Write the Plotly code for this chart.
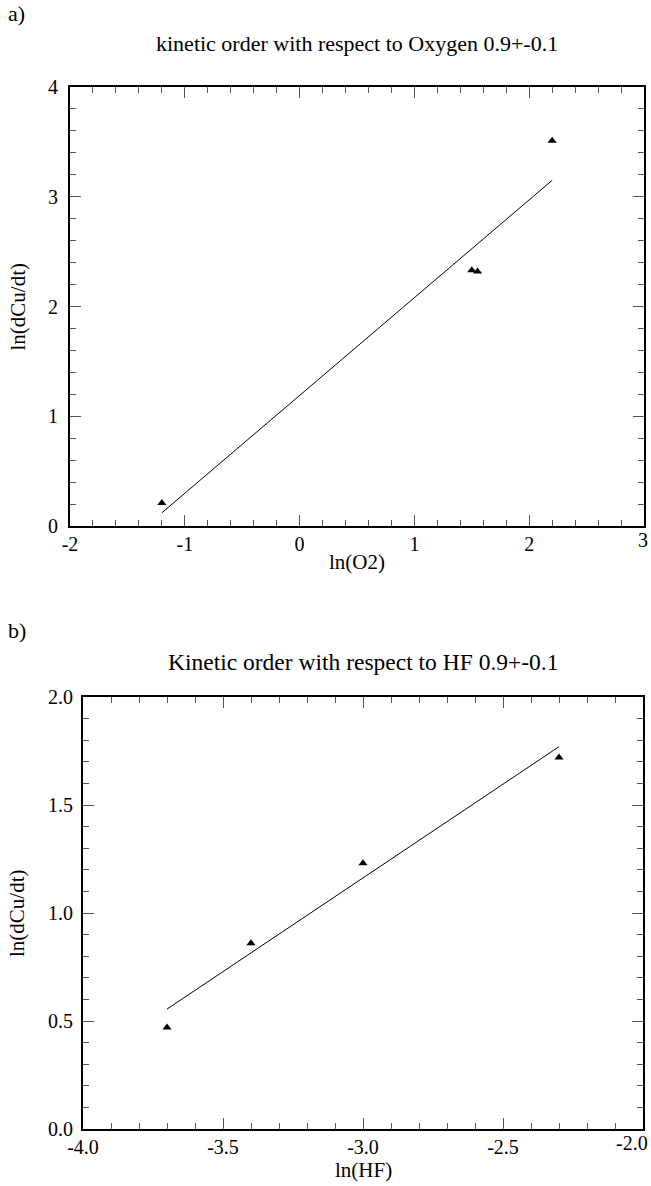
import plotly.graph_objects as go

# ---- data: panel a (Oxygen) ----
o2_x = [-1.2, 1.50, 1.55, 2.2]
o2_y = [0.21, 2.33, 2.32, 3.51]
o2_fit_x = [-1.2, 2.2]
o2_fit_y = [0.12, 3.15]

# ---- data: panel b (HF) ----
hf_x = [-3.7, -3.4, -3.0, -2.3]
hf_y = [0.47, 0.86, 1.23, 1.72]
hf_fit_x = [-3.7, -2.3]
hf_fit_y = [0.555, 1.77]

# ---- tick labels ----
a_xticks = [-2, -1, 0, 1, 2, 3]
a_xtext = ["-2", "-1", "0", "1", "2", "3"]
a_yticks = [0, 1, 2, 3, 4]
a_ytext = ["0", "1", "2", "3", "4"]
b_xticks = [-4.0, -3.5, -3.0, -2.5, -2.0]
b_xtext = ["-4.0", "-3.5", "-3.0", "-2.5", "-2.0"]
b_yticks = [0.0, 0.5, 1.0, 1.5, 2.0]
b_ytext = ["0.0", "0.5", "1.0", "1.5", "2.0"]

W, H = 651, 1186
FONT = "Liberation Serif"

fig = go.Figure()

fig.add_trace(go.Scatter(x=o2_fit_x, y=o2_fit_y, mode="lines",
                         line=dict(color="black", width=1), xaxis="x", yaxis="y",
                         showlegend=False, cliponaxis=False))
fig.add_trace(go.Scatter(x=o2_x, y=o2_y, mode="markers",
                         marker=dict(symbol="triangle-up", size=8, color="black"),
                         xaxis="x", yaxis="y", showlegend=False, cliponaxis=False))
fig.add_trace(go.Scatter(x=hf_fit_x, y=hf_fit_y, mode="lines",
                         line=dict(color="black", width=1), xaxis="x2", yaxis="y2",
                         showlegend=False, cliponaxis=False))
fig.add_trace(go.Scatter(x=hf_x, y=hf_y, mode="markers",
                         marker=dict(symbol="triangle-up", size=8, color="black"),
                         xaxis="x2", yaxis="y2", showlegend=False, cliponaxis=False))


def px_x(p):
    return p / W


def px_y(p):
    return 1 - p / H


def axis_common(tickvals, ticktext, minor_dtick):
    return dict(
        showline=True, linecolor="black", linewidth=2, mirror="allticks",
        ticks="inside", ticklen=11, tickwidth=1, tickcolor="#555555",
        tickmode="array", tickvals=tickvals, ticktext=ticktext,
        minor=dict(ticks="inside", ticklen=6, tickwidth=1, tickcolor="#555555",
                   dtick=minor_dtick, showgrid=False),
        showgrid=False, zeroline=False, automargin=False,
        ticklabeloverflow="allow",
        tickfont=dict(family=FONT, size=20, color="black"),
    )


# panel a pixel box
aL, aR, aT, aB = 70, 644, 87, 526
# panel b pixel box
bL, bR, bT, bB = 83, 643, 697, 1129

# the right-most x tick labels sit against the page edge: they are drawn as
# separate labels pulled inside the page, the axis keeps the other labels
xa = axis_common(a_xticks, a_xtext[:-1] + [""], 0.2)
xa.update(domain=[px_x(aL), px_x(aR)], range=[-2, 3], anchor="y",
          ticklabelstandoff=-1)
ya = axis_common(a_yticks, a_ytext, 0.2)
ya.update(domain=[px_y(aB), px_y(aT)], range=[0, 4], anchor="x",
          ticklabelstandoff=6)
xb = axis_common(b_xticks, b_xtext[:-1] + [""], 0.1)
xb.update(domain=[px_x(bL), px_x(bR)], range=[-4, -2], anchor="y2",
          ticklabelstandoff=-1)
yb = axis_common(b_yticks, b_ytext, 0.1)
yb.update(domain=[px_y(bB), px_y(bT)], range=[0, 2], anchor="x2",
          ticklabelstandoff=4)


def label(text, x, y, size=21, angle=0, xanchor="center"):
    return dict(text=text, x=px_x(x), y=px_y(y), xref="paper", yref="paper",
                xanchor=xanchor, yanchor="middle", showarrow=False,
                textangle=angle,
                font=dict(family=FONT, size=size, color="black"))


annotations = [
    label("a)", 6, 13, size=22, xanchor="left"),
    label("kinetic order with respect to Oxygen 0.9+-0.1", (aL + aR) / 2, 43, size=22),
    label("ln(O2)", (aL + aR) / 2, aB + 36),
    label("ln(dCu/dt)", 17, (aT + aB) / 2, angle=-90),
    label("b)", 6, 630, size=22, xanchor="left"),
    label("Kinetic order with respect to HF 0.9+-0.1", (bL + bR) / 2, 662, size=23.5),
    label("ln(HF)", (bL + bR) / 2, bB + 41),
    label("ln(dCu/dt)", 17, (bT + bB) / 2, angle=-90),
    dict(text=a_xtext[-1], x=px_x(650), y=px_y(aB + 14), xref="paper", yref="paper",
         xanchor="right", yanchor="middle", showarrow=False,
         font=dict(family=FONT, size=20, color="black")),
    dict(text=b_xtext[-1], x=px_x(650), y=px_y(bB + 14), xref="paper", yref="paper",
         xanchor="right", yanchor="middle", showarrow=False,
         font=dict(family=FONT, size=20, color="black")),
]

fig.update_layout(
    template="none",
    width=W, height=H,
    margin=dict(l=0, r=0, t=0, b=0, autoexpand=False),
    paper_bgcolor="white", plot_bgcolor="white",
    xaxis=xa, yaxis=ya, xaxis2=xb, yaxis2=yb,
    annotations=annotations,
    font=dict(family=FONT, color="black"),
)

fig.write_html("out.html",
               config={"displayModeBar": False},
               post_script="document.body.style.margin='0';"
                           "document.body.style.overflow='hidden';")
